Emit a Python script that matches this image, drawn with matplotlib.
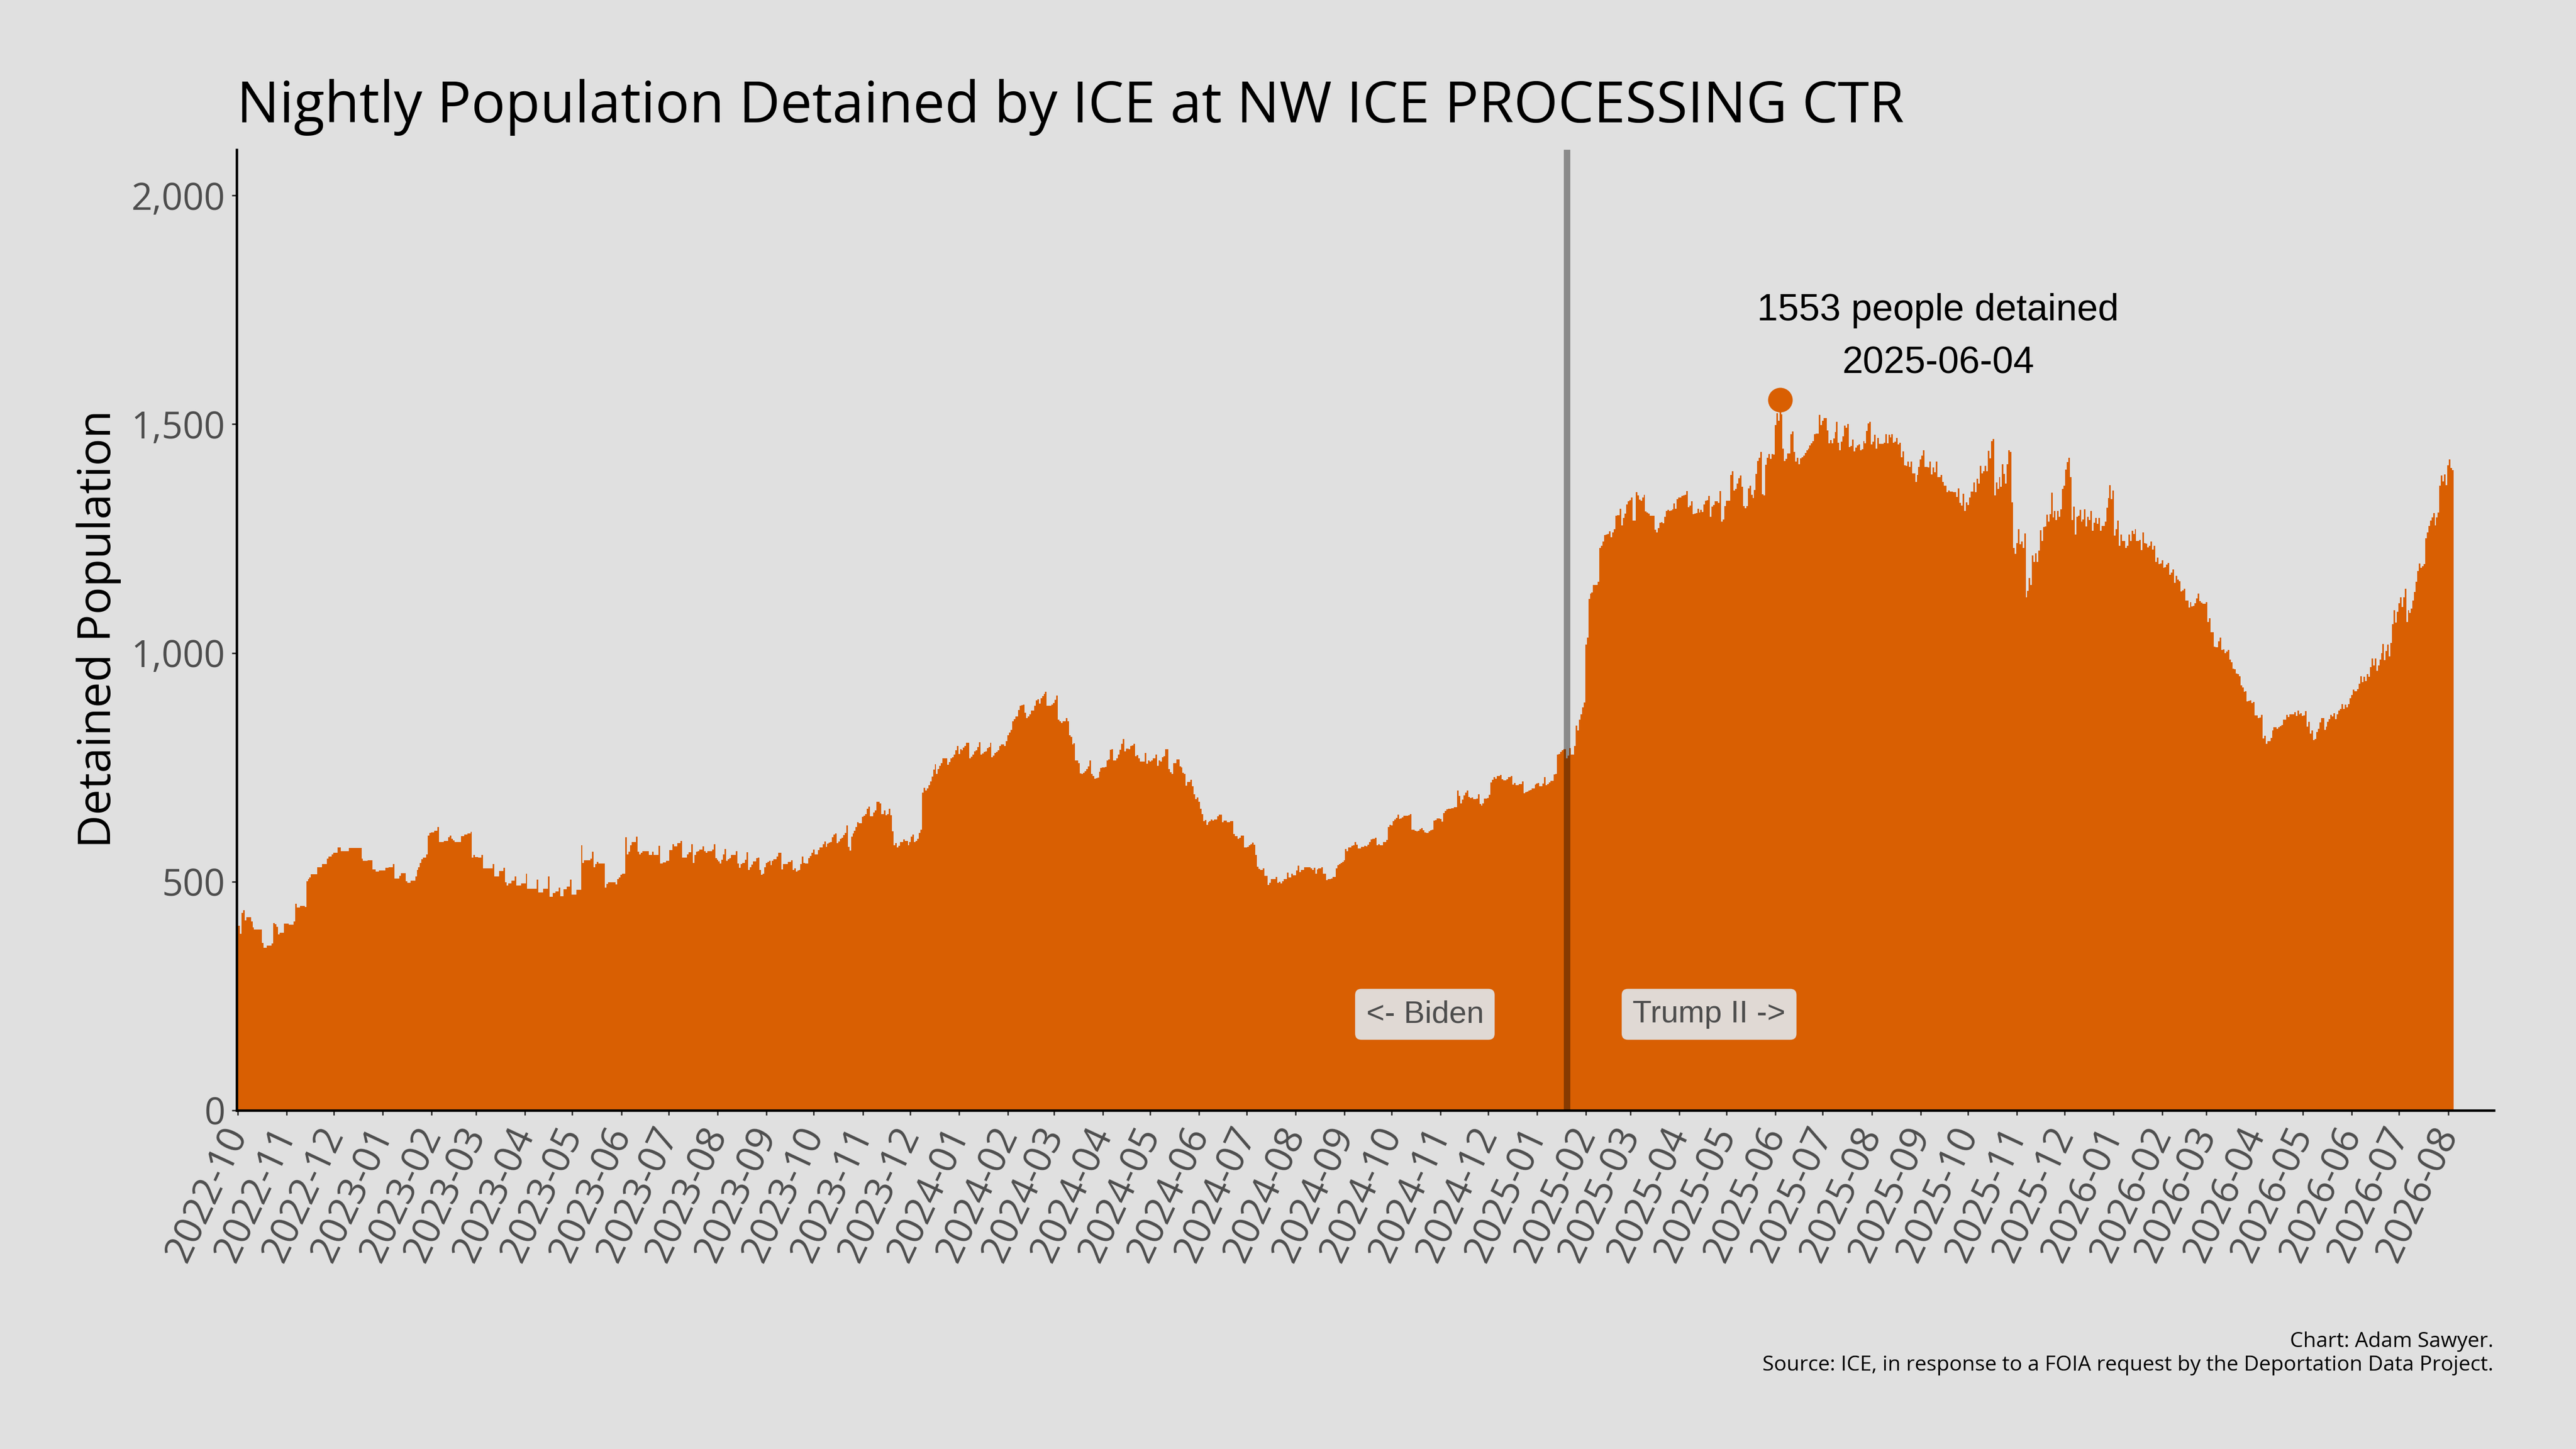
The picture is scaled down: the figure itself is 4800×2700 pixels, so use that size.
import numpy as np
import pandas as pd
import matplotlib
matplotlib.use("Agg")
import matplotlib.pyplot as plt
from matplotlib.ticker import FuncFormatter, MultipleLocator

# nightly detained population, one value per night

# 2022-10-01 .. 2023-05-21
pop_a = [403, 403, 386, 432, 437, 415, 422, 422, 422, 413,
         400, 395, 395, 395, 395, 395, 366, 355, 355, 360,
         360, 360, 365, 410, 407, 401, 385, 388, 388, 388,
         408, 408, 408, 406, 406, 406, 413, 452, 444, 444,
         447, 447, 447, 445, 501, 506, 509, 516, 516, 516,
         516, 532, 532, 532, 539, 539, 539, 550, 555, 555,
         560, 563, 563, 563, 575, 575, 567, 567, 567, 567,
         567, 574, 574, 574, 574, 574, 574, 574, 574, 550,
         545, 545, 545, 547, 547, 547, 527, 527, 522, 522,
         524, 524, 524, 524, 530, 530, 532, 532, 532, 539,
         507, 507, 507, 513, 519, 519, 519, 501, 497, 497,
         502, 502, 502, 511, 525, 532, 541, 549, 552, 552,
         560, 601, 606, 608, 608, 611, 611, 620, 586, 586,
         586, 589, 589, 589, 597, 601, 594, 590, 586, 586,
         586, 586, 599, 599, 603, 603, 605, 605, 609, 552,
         559, 554, 554, 552, 552, 559, 529, 529, 529, 529,
         529, 529, 539, 512, 512, 512, 523, 523, 523, 530,
         499, 491, 496, 496, 502, 502, 511, 491, 491, 491,
         496, 496, 496, 517, 484, 484, 484, 484, 484, 484,
         505, 476, 476, 476, 484, 484, 484, 511, 467, 467,
         475, 475, 479, 479, 487, 468, 468, 483, 483, 489,
         489, 505, 472, 472, 472, 482, 482, 482, 579, 541,
         547, 547, 547, 547, 550, 566, 532, 539, 543, 540,
         540, 540, 540]

# 2023-05-22 .. 2024-01-11
pop_b = [487, 495, 499, 499, 499, 499, 499, 494, 506, 509,
         515, 517, 517, 597, 560, 566, 579, 586, 586, 586,
         598, 566, 560, 563, 567, 567, 567, 567, 559, 559,
         566, 559, 559, 559, 578, 540, 540, 542, 542, 546,
         546, 569, 569, 582, 577, 577, 584, 584, 589, 553,
         553, 553, 560, 564, 564, 582, 541, 558, 565, 567,
         570, 570, 577, 567, 563, 567, 567, 567, 570, 582,
         551, 548, 544, 540, 548, 560, 571, 545, 549, 551,
         559, 559, 559, 567, 540, 530, 539, 541, 541, 548,
         564, 526, 532, 537, 544, 544, 551, 553, 526, 515,
         517, 532, 541, 543, 545, 536, 545, 549, 549, 555,
         563, 563, 527, 538, 538, 538, 543, 543, 547, 525,
         529, 522, 524, 526, 539, 555, 541, 540, 540, 551,
         556, 563, 570, 560, 560, 569, 575, 575, 582, 588,
         576, 583, 585, 586, 597, 603, 605, 584, 588, 594,
         596, 602, 607, 623, 576, 568, 598, 605, 611, 620,
         630, 628, 628, 642, 644, 647, 659, 664, 643, 643,
         651, 656, 674, 674, 671, 647, 648, 656, 645, 648,
         659, 645, 610, 580, 584, 575, 578, 586, 586, 592,
         589, 589, 580, 586, 598, 603, 587, 589, 594, 607,
         614, 694, 705, 699, 704, 711, 719, 730, 745, 757,
         736, 746, 753, 759, 769, 769, 770, 755, 761, 770,
         772, 778, 787, 796, 779, 789, 787, 793, 797, 804,
         804, 770, 773, 778, 785]

# 2024-01-12 .. 2024-09-01
pop_c = [787, 794, 805, 778, 780, 784, 785, 792, 794, 804,
         772, 775, 781, 784, 787, 796, 800, 800, 797, 807,
         820, 826, 832, 850, 855, 861, 861, 875, 885, 886,
         887, 869, 858, 861, 866, 874, 874, 884, 896, 899,
         889, 901, 906, 910, 915, 884, 884, 884, 887, 890,
         898, 907, 854, 850, 847, 851, 851, 857, 850, 820,
         816, 800, 803, 765, 765, 759, 737, 735, 738, 742,
         746, 752, 765, 735, 731, 725, 726, 727, 740, 748,
         750, 750, 751, 765, 767, 788, 789, 765, 765, 770,
         778, 788, 801, 812, 785, 791, 791, 789, 796, 798,
         801, 774, 777, 770, 763, 763, 763, 781, 758, 765,
         762, 765, 769, 769, 778, 753, 765, 762, 772, 774,
         789, 789, 746, 739, 735, 759, 759, 767, 767, 752,
         750, 738, 735, 710, 718, 718, 723, 708, 691, 680,
         684, 675, 659, 647, 632, 635, 624, 630, 632, 636,
         633, 636, 636, 643, 646, 646, 630, 633, 633, 630,
         630, 632, 632, 604, 599, 599, 594, 596, 601, 601,
         575, 575, 576, 579, 582, 585, 581, 558, 533, 528,
         526, 526, 529, 513, 513, 493, 497, 506, 506, 506,
         510, 498, 500, 496, 501, 506, 506, 520, 509, 509,
         517, 514, 514, 524, 535, 521, 526, 526, 532, 532,
         532, 532, 529, 525, 530, 517, 527, 529, 529, 532,
         517, 517, 503, 506, 506, 507, 510, 510, 529, 536,
         539, 541, 543, 547]

# 2024-09-02 .. 2025-04-25
pop_d = [571, 567, 575, 575, 578, 579, 587, 581, 573, 573,
         576, 576, 578, 577, 581, 587, 593, 594, 594, 596,
         580, 582, 579, 579, 586, 586, 591, 620, 624, 623,
         632, 636, 639, 646, 637, 638, 640, 644, 644, 644,
         645, 648, 613, 613, 611, 610, 611, 615, 617, 612,
         608, 606, 606, 610, 612, 614, 633, 635, 638, 638,
         637, 631, 650, 655, 658, 659, 659, 661, 661, 663,
         663, 699, 687, 671, 679, 689, 694, 699, 685, 683,
         684, 680, 680, 682, 691, 670, 666, 671, 682, 682,
         683, 690, 717, 723, 728, 725, 731, 731, 733, 724,
         721, 721, 724, 728, 728, 731, 712, 716, 711, 711,
         713, 713, 719, 693, 696, 697, 699, 700, 704, 704,
         712, 714, 716, 709, 709, 715, 728, 711, 713, 717,
         720, 720, 734, 735, 778, 779, 784, 787, 789, 789,
         770, 775, 792, 778, 778, 796, 841, 831, 854, 866,
         881, 892, 1018, 1033, 1118, 1130, 1132, 1148, 1149, 1149,
         1156, 1230, 1234, 1244, 1258, 1259, 1260, 1266, 1253, 1264,
         1271, 1300, 1301, 1301, 1315, 1279, 1295, 1305, 1324, 1331,
         1334, 1340, 1289, 1289, 1352, 1344, 1335, 1333, 1340, 1346,
         1309, 1307, 1305, 1300, 1300, 1300, 1269, 1264, 1273, 1285,
         1286, 1283, 1297, 1310, 1313, 1310, 1312, 1314, 1327, 1315,
         1336, 1340, 1340, 1343, 1344, 1345, 1354, 1319, 1322, 1332,
         1303, 1305, 1306, 1315, 1307, 1313, 1308, 1325, 1333, 1334,
         1343, 1297, 1320, 1323, 1332, 1332]

# 2025-04-26 .. 2025-12-15
pop_e = [1328, 1354, 1287, 1292, 1321, 1333, 1333, 1333, 1389, 1397,
         1355, 1359, 1370, 1382, 1388, 1363, 1321, 1316, 1321, 1360,
         1366, 1346, 1339, 1356, 1391, 1419, 1427, 1439, 1347, 1344,
         1411, 1426, 1435, 1424, 1435, 1434, 1498, 1524, 1508, 1553,
         1522, 1446, 1420, 1424, 1436, 1436, 1478, 1484, 1440, 1418,
         1427, 1413, 1425, 1428, 1431, 1437, 1443, 1447, 1454, 1458,
         1463, 1478, 1479, 1479, 1520, 1498, 1508, 1513, 1513, 1486,
         1458, 1465, 1458, 1469, 1483, 1505, 1459, 1443, 1462, 1473,
         1497, 1492, 1501, 1450, 1452, 1466, 1441, 1449, 1454, 1456,
         1443, 1445, 1463, 1458, 1485, 1502, 1505, 1456, 1462, 1477,
         1446, 1470, 1457, 1457, 1457, 1459, 1478, 1458, 1477, 1471,
         1478, 1459, 1462, 1470, 1456, 1459, 1428, 1441, 1410, 1409,
         1418, 1406, 1418, 1392, 1393, 1374, 1389, 1407, 1423, 1431,
         1443, 1407, 1407, 1405, 1418, 1390, 1405, 1395, 1418, 1384,
         1384, 1389, 1374, 1366, 1366, 1351, 1355, 1353, 1353, 1351,
         1351, 1341, 1360, 1328, 1322, 1348, 1310, 1329, 1323, 1340,
         1353, 1353, 1373, 1352, 1381, 1370, 1409, 1393, 1397, 1409,
         1397, 1442, 1425, 1463, 1468, 1344, 1372, 1358, 1384, 1363,
         1413, 1391, 1370, 1413, 1443, 1439, 1329, 1230, 1217, 1240,
         1270, 1238, 1243, 1230, 1261, 1122, 1136, 1164, 1149, 1213,
         1199, 1218, 1199, 1224, 1268, 1245, 1275, 1276, 1302, 1287,
         1303, 1350, 1296, 1310, 1291, 1310, 1298, 1314, 1358, 1366,
         1401, 1417, 1427, 1384, 1290, 1320, 1259, 1297, 1300, 1313,
         1287, 1292, 1314, 1276]

# 2025-12-16 .. 2026-08-04
pop_f = [1298, 1290, 1310, 1267, 1284, 1295, 1282, 1295, 1267, 1278,
         1278, 1287, 1318, 1339, 1367, 1336, 1355, 1256, 1271, 1289,
         1234, 1259, 1245, 1245, 1230, 1234, 1259, 1245, 1267, 1260,
         1271, 1245, 1245, 1247, 1225, 1263, 1240, 1239, 1231, 1234,
         1244, 1226, 1234, 1199, 1208, 1194, 1196, 1203, 1186, 1187,
         1193, 1197, 1171, 1175, 1182, 1153, 1168, 1160, 1157, 1135,
         1137, 1140, 1115, 1115, 1099, 1111, 1102, 1103, 1109, 1119,
         1130, 1113, 1110, 1108, 1107, 1111, 1068, 1076, 1045, 1045,
         1014, 1012, 1012, 1025, 1034, 1006, 1008, 1000, 1003, 1006,
         985, 980, 965, 964, 955, 954, 949, 929, 924, 915,
         916, 894, 895, 896, 890, 893, 863, 864, 858, 859,
         865, 813, 819, 801, 807, 807, 814, 831, 838, 838,
         834, 838, 840, 842, 854, 854, 865, 860, 866, 866,
         866, 871, 862, 874, 866, 868, 862, 863, 873, 839,
         849, 823, 831, 809, 812, 827, 834, 848, 858, 857,
         832, 839, 849, 855, 865, 861, 868, 855, 866, 874,
         878, 888, 878, 887, 881, 888, 901, 908, 920, 916,
         916, 921, 933, 949, 936, 948, 938, 954, 948, 969,
         988, 973, 988, 961, 972, 985, 1000, 1019, 984, 1004,
         1018, 992, 1022, 1063, 1093, 1066, 1090, 1109, 1122, 1100,
         1121, 1140, 1068, 1093, 1087, 1097, 1114, 1133, 1155, 1179,
         1195, 1186, 1190, 1194, 1251, 1263, 1278, 1289, 1296, 1306,
         1279, 1296, 1307, 1366, 1388, 1375, 1390, 1367, 1410, 1423,
         1404, 1400]

first_night = "2022-10-01"
inauguration = "2025-01-20"
era_labels = ["<- Biden", "Trump II ->"]

title = "Nightly Population Detained by ICE at NW ICE PROCESSING CTR"
ylabel = "Detained Population"
caption = ("Chart: Adam Sawyer.\n"
           "Source: ICE, in response to a FOIA request by the Deportation Data Project.")

BG = "#E0E0E0"
ORANGE = "#D95F02"
GREY = "#4D4D4D"

plt.rcParams["font.family"] = ["Open Sans", "DejaVu Sans"]

pop = np.array(pop_a + pop_b + pop_c + pop_d + pop_e + pop_f)
nights = pd.date_range(first_night, periods=len(pop), freq="D")
inaug = pd.Timestamp(inauguration)

fig = plt.figure(figsize=(16, 9), dpi=300, facecolor=BG)
ax = fig.add_axes([0.0919, 0.2337, 0.8762, 0.663])
ax.set_facecolor(BG)

ax.bar(nights, pop, width=1.0, color=ORANGE, linewidth=0, antialiased=False, zorder=2)
ax.axvline(inaug, color="black", alpha=0.38, linewidth=2.9, zorder=3)

# peak night
peak = pop.argmax()
ax.plot(nights[peak], pop[peak], "o", color=ORANGE, markersize=10, zorder=4)
ax.text(nights[peak] + pd.Timedelta(days=100), 1690,
        f"{pop[peak]} people detained\n{nights[peak]:%Y-%m-%d}",
        ha="center", va="center", fontsize=16.8, family="Liberation Sans",
        color="black", linespacing=1.65, zorder=5)

box = dict(boxstyle="round,pad=0.35,rounding_size=0.2", fc="#E0D9D4", ec="none")
for offset, lab in zip([-90, 90], era_labels):
    ax.text(inaug + pd.Timedelta(days=offset), 210, lab, ha="center", va="center",
            fontsize=14, family="Liberation Sans", color=GREY, bbox=box, zorder=5)

ax.set_xlim(nights[0] - pd.Timedelta(hours=12), nights[0] + pd.Timedelta(days=1429))
ax.set_ylim(0, 2100)

months = pd.date_range(first_night, nights[-1], freq="MS")
ax.set_xticks(months)
ax.set_xticklabels([m.strftime("%Y-%m") for m in months], rotation=65,
                   ha="right", va="center", rotation_mode="anchor")
ax.yaxis.set_major_locator(MultipleLocator(500))
ax.yaxis.set_major_formatter(FuncFormatter(lambda v, p: f"{v:,.0f}"))
ax.tick_params(axis="both", length=2.2, width=0.7, color="#333333",
               labelcolor=GREY, labelsize=16.5)
ax.tick_params(axis="x", pad=6, labelsize=17.2)
ax.tick_params(axis="y", pad=3)

for side in ["top", "right"]:
    ax.spines[side].set_visible(False)
for side in ["left", "bottom"]:
    ax.spines[side].set_linewidth(1.1)
    ax.spines[side].set_color("black")

fig.text(0.0919, 0.9156, title, ha="left", va="baseline", fontsize=25.4, color="black")
fig.text(0.0383, 0.566, ylabel, rotation=90, ha="center", va="center", fontsize=20.5, color="black")
fig.text(0.968, 0.0507, caption, ha="right", va="bottom", fontsize=9.4, linespacing=1.2,
         multialignment="right", color="black")

fig.savefig("out.png", dpi=300, facecolor=BG)
